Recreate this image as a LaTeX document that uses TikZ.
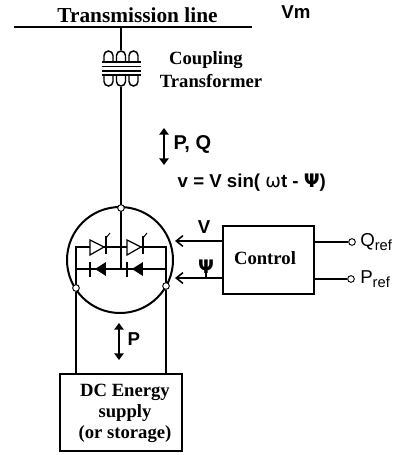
\documentclass[tikz,border=0pt]{standalone}
\usepackage{fontspec}
\setmainfont{Liberation Serif}
\setsansfont{Liberation Sans}
\usetikzlibrary{arrows.meta}
\newfontfamily\symfont{DejaVu Sans}
\tikzset{
  wire/.style={line width=1.5pt,black},
  thick box/.style={draw,line width=1.7pt,fill=white,inner sep=0pt},
  term/.style={circle,draw,line width=0.7pt,fill=white,minimum size=5pt,inner sep=0pt},
  serif/.style={font=\fontsize{14}{16}\selectfont\bfseries,align=center},
  sans/.style={font=\fontsize{14}{16}\selectfont\sffamily\bfseries},
  arr/.style={line width=1.2pt,-{Straight Barb[length=5pt,width=8pt]}},
  dbl/.style={line width=1.5pt,{Triangle[length=5pt,width=7pt]}-{Triangle[length=5pt,width=7pt]}},
}
\begin{document}
\begin{tikzpicture}[x=0.75pt,y=-0.75pt]
\useasboundingbox (0,0) rectangle (393,455);
\coordinate (tl) at (14,27); \coordinate (tr) at (252,27);
\draw[wire] (tl) -- (tr);
\node[serif,font=\fontsize{16}{16}\selectfont\bfseries] (tlabel) at (137.5,15) {Transmission line};
\node[sans] (vm) at (296,12) {Vm};
\coordinate (t1) at (121,27); \coordinate (t2) at (121,50);
\coordinate (b1) at (121,87); \coordinate (hub) at (121,208);
\draw[wire] (t1) -- (t2);
\draw[wire] (b1) -- (hub);
\foreach \x in {108.5,121,133.5}{
  \draw[line width=1.1pt] (\x-4.5,61) -- (\x-4.5,55.5) arc[start angle=180,end angle=360,radius=4.5] -- (\x+4.5,61);
  \draw[line width=1.1pt] (\x-4.5,75) -- (\x-4.5,81.5) arc[start angle=180,end angle=0,radius=4.5] -- (\x+4.5,75);
}
\draw[line width=1.1pt] (102,62) -- (141,62);
\draw[line width=1.1pt] (102,75) -- (141,75);
\draw[line width=0.8pt] (102,66.5) -- (141,66.5);
\draw[line width=0.8pt] (102,71) -- (141,71);
\node[serif,font=\fontsize{14}{16}\selectfont\bfseries] (coup) at (206,60) {Coupling};
\node[serif,font=\fontsize{14}{16}\selectfont\bfseries] (trans) at (211,81) {Transformer};
\draw[dbl] (164,128) -- (164,165);
\node[sans,font=\fontsize{15}{16}\selectfont\sffamily\bfseries,anchor=west] (pq) at (169,144) {P, Q};
\node[sans,anchor=west] (eq) at (173,183) {v = V sin( {\symfont\mdseries ω}t - {\symfont Ψ})};
\node[circle,draw,line width=1.5pt,minimum size=106pt*0.75,inner sep=0pt] (conv) at (120,260) {};
\coordinate (hubb) at (121,269);
\draw[wire] (hub) -- (hubb);
\draw[line width=1.3pt] (166,286) -- (166,247) -- (76,247) -- (76,288);
\draw[line width=1.3pt] (76,269) -- (166,269);
\foreach \x in {90,127}{
  \draw[line width=0.9pt,fill=white] (\x,240) -- (\x,255) -- (\x+14,247) -- cycle;
  \draw[line width=0.9pt] (\x+16,236) -- (\x+16,254);
  \draw[line width=0.7pt] (\x+16,238) -- (\x+20,233);
  \fill (\x+16,262) -- (\x+16,276) -- (\x+5,269) -- cycle;
  \draw[line width=0.9pt] (\x,262) -- (\x,277);
}
\node[term] (tl2) at (76,288) {};
\node[term] (tr2) at (166,286) {};
\node[term] (thub) at (121,208) {};
\node[thick box,minimum width=91pt*0.75,minimum height=68pt*0.75] (ctrl) at (268.5,260) {};
\node[serif] (ctrllabel) at (265,258) {Control};
\coordinate (c1) at (223,241); \coordinate (c2) at (223,278);
\coordinate (a1) at (175,241); \coordinate (a2) at (175,278);
\coordinate (psifoot) at (206,278); \coordinate (psitop) at (206,270);
\draw[arr] (c1) -- (a1);
\draw[arr] (c2) -- (a2);
\draw[line width=1.2pt] (psitop) -- (psifoot);
\node[sans] (v) at (204,227) {V};
\node[sans] (psi) at (206,267) {\symfont Ψ};
\node[term] (q) at (352,242) {};
\node[term] (p) at (351,279) {};
\draw[wire] (314,242) -- (q);
\draw[wire] (314,279) -- (p);
\node[anchor=west,inner sep=0pt,font=\fontsize{14}{16}\selectfont\sffamily] (qref) at (360,242) {Q\raisebox{-0.35ex}{\fontsize{11}{11}\selectfont ref}};
\node[anchor=west,inner sep=0pt,font=\fontsize{14}{16}\selectfont\sffamily] (pref) at (360,279) {P\raisebox{-0.35ex}{\fontsize{11}{11}\selectfont ref}};
\node[thick box,minimum width=122pt*0.75,minimum height=77pt*0.75] (dc) at (121,412.5) {};
\node[serif] (dclabel) at (125,413.5) {DC Energy\\supply\\(or storage)};
\coordinate (dl) at (76,374); \coordinate (dr) at (166,374);
\draw[wire] (tl2) -- (dl);
\draw[wire] (tr2) -- (dr);
\draw[dbl] (119,323) -- (119,360);
\node[sans,anchor=west] (pl) at (123,339) {P};
\end{tikzpicture}
\end{document}
